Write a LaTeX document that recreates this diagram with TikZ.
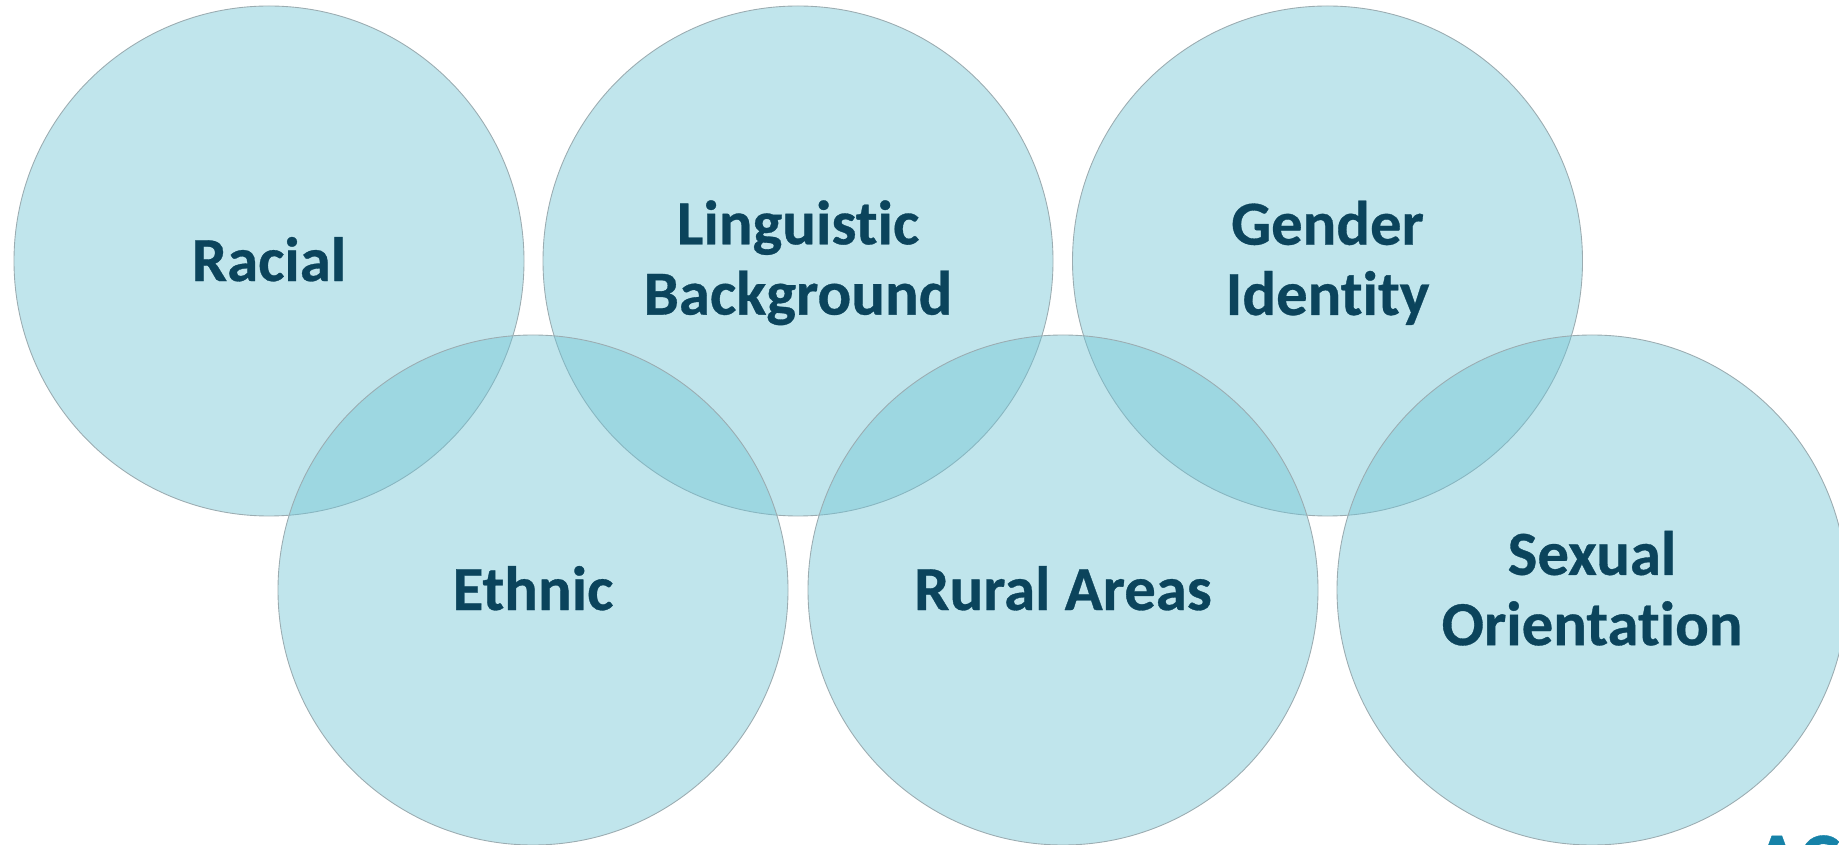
\documentclass[tikz,border=0pt]{standalone}
\usepackage{fontspec}
\setmainfont{Carlito}[Ligatures=NoCommon,BoldFeatures={FakeBold=0.5}]
\usepackage{xcolor}
\definecolor{circlefill}{RGB}{112,196,212}
\definecolor{circleedge}{RGB}{155,172,177}
\definecolor{labeltext}{RGB}{11,68,92}
\definecolor{logoblue}{RGB}{22,130,168}
\tikzset{
    group/.style={circle, draw=circleedge, line width=0.5pt, fill=circlefill, fill opacity=0.44, minimum size=10.2cm, inner sep=0pt},
    grouplabel/.style={align=center, text=labeltext, font=\fontsize{35.7}{40}\selectfont\bfseries}
}
\begin{document}
\begin{tikzpicture}
    \useasboundingbox (0,0) rectangle (36.78,16.88);
    % top row
    \node[group] (racial) at (5.38,11.66) {};
    \node[group] (linguistic) at (15.96,11.66) {};
    \node[group] (gender) at (26.55,11.66) {};
    % bottom row
    \node[group] (ethnic) at (10.66,5.08) {};
    \node[group] (rural) at (21.26,5.08) {};
    \node[group] (sexual) at (31.84,5.08) {};
    % labels
    \node[grouplabel, yshift=1pt] (racialtext) at (racial) {Racial};
    \node[grouplabel, yshift=-1pt] (linguistictext) at (linguistic) {Linguistic\\Background};
    \node[grouplabel, yshift=-1pt] (gendertext) at (gender) {Gender\\Identity};
    \node[grouplabel, yshift=1pt] (ethnictext) at (ethnic) {Ethnic};
    \node[grouplabel, yshift=1pt] (ruraltext) at (rural) {Rural Areas};
    \node[grouplabel, yshift=1pt] (sexualtext) at (sexual) {Sexual\\Orientation};
    \node[anchor=north west, inner sep=0pt, text=logoblue, font=\fontsize{44}{44}\selectfont\bfseries] (logo) at (35.06,0.18) {AC};
\end{tikzpicture}
\end{document}
